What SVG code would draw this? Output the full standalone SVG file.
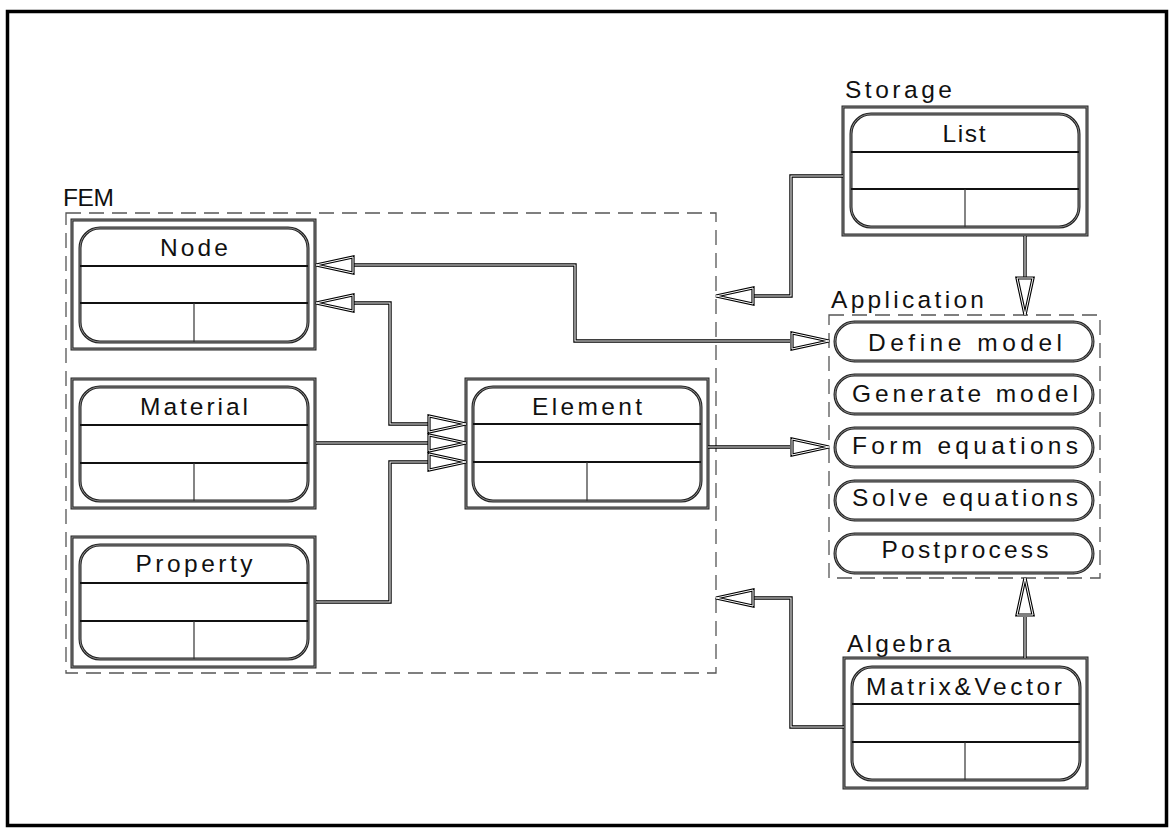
<svg xmlns="http://www.w3.org/2000/svg" xmlns:xlink="http://www.w3.org/1999/xlink" width="1175" height="834" viewBox="0 0 1175 834">
<style>
text{font-family:"Liberation Sans",Arial,sans-serif;font-size:24.5px;fill:#111}
.t{text-anchor:middle}
.frame{fill:none;stroke:#000;stroke-width:3.5}
.bo{fill:none;stroke:#222;stroke-width:3}
.bi{fill:none;stroke:#8a8a8a;stroke-width:1}
.hl{stroke:#111;stroke-width:1.8}
.vd{stroke:#333;stroke-width:1.2}
.dash{fill:none;stroke:#555;stroke-width:1.3;stroke-dasharray:15 8}
.co{fill:none;stroke:#000;stroke-width:3.4}
.ci{fill:none;stroke:#fff;stroke-width:1.1}
.ao{fill:#fff;stroke:#000;stroke-width:3.2;stroke-linejoin:miter}
.ai{fill:none;stroke:#fff;stroke-width:1}
</style>
<defs>
<polygon id="ah" points="0,0 -37,-8 -37,8"/>
</defs>
<rect width="1175" height="834" fill="#fff"/>
<rect class="frame" x="7.5" y="11.5" width="1159" height="814"/>

<g id="FEM">
<rect class="dash" x="66" y="213" width="650" height="460"/>
<text x="63" y="206" textLength="51" lengthAdjust="spacing">FEM</text>
</g>

<g id="Node">
<rect class="bo" x="72" y="220" width="243" height="129"/><rect class="bi" x="72" y="220" width="243" height="129"/>
<rect class="bo" x="80" y="228" width="228" height="114" rx="20"/><rect class="bi" x="80" y="228" width="228" height="114" rx="20"/>
<line class="hl" x1="80" y1="266" x2="308" y2="266"/><line class="hl" x1="80" y1="303" x2="308" y2="303"/>
<line class="vd" x1="194" y1="303" x2="194" y2="342"/>
<text class="t" x="194" y="256" textLength="68" lengthAdjust="spacing">Node</text>
</g>

<g id="Material">
<rect class="bo" x="72" y="379" width="243" height="129"/><rect class="bi" x="72" y="379" width="243" height="129"/>
<rect class="bo" x="80" y="387" width="228" height="114" rx="20"/><rect class="bi" x="80" y="387" width="228" height="114" rx="20"/>
<line class="hl" x1="80" y1="425" x2="308" y2="425"/><line class="hl" x1="80" y1="463" x2="308" y2="463"/>
<line class="vd" x1="194" y1="463" x2="194" y2="501"/>
<text class="t" x="194" y="415" textLength="108" lengthAdjust="spacing">Material</text>
</g>

<g id="Property">
<rect class="bo" x="72" y="537" width="243" height="130"/><rect class="bi" x="72" y="537" width="243" height="130"/>
<rect class="bo" x="80" y="545" width="228" height="114" rx="20"/><rect class="bi" x="80" y="545" width="228" height="114" rx="20"/>
<line class="hl" x1="80" y1="583" x2="308" y2="583"/><line class="hl" x1="80" y1="621" x2="308" y2="621"/>
<line class="vd" x1="194" y1="621" x2="194" y2="659"/>
<text class="t" x="194" y="572" textLength="117" lengthAdjust="spacing">Property</text>
</g>

<g id="Element">
<rect class="bo" x="466" y="379" width="242" height="129"/><rect class="bi" x="466" y="379" width="242" height="129"/>
<rect class="bo" x="473" y="387" width="228" height="114" rx="20"/><rect class="bi" x="473" y="387" width="228" height="114" rx="20"/>
<line class="hl" x1="473" y1="424" x2="701" y2="424"/><line class="hl" x1="473" y1="462" x2="701" y2="462"/>
<line class="vd" x1="587" y1="462" x2="587" y2="501"/>
<text class="t" x="587" y="415" textLength="110" lengthAdjust="spacing">Element</text>
</g>

<g id="Storage">
<text x="845" y="98" textLength="107" lengthAdjust="spacing">Storage</text>
<rect class="bo" x="843" y="107" width="244" height="128"/><rect class="bi" x="843" y="107" width="244" height="128"/>
<rect class="bo" x="851" y="114" width="228" height="113" rx="20"/><rect class="bi" x="851" y="114" width="228" height="113" rx="20"/>
<line class="hl" x1="851" y1="152" x2="1079" y2="152"/><line class="hl" x1="851" y1="189" x2="1079" y2="189"/>
<line class="vd" x1="965" y1="189" x2="965" y2="227"/>
<text class="t" x="964" y="142" textLength="43" lengthAdjust="spacing">List</text>
</g>

<g id="Application">
<rect class="dash" x="829" y="315" width="271" height="263"/>
<text x="831" y="308" textLength="153" lengthAdjust="spacing">Application</text>
<g id="DefineModel">
<rect class="bo" x="835" y="322" width="258" height="39" rx="19.5"/><rect class="bi" x="835" y="322" width="258" height="39" rx="19.5"/>
<text class="t" x="965" y="351" textLength="194" lengthAdjust="spacing">Define model</text>
</g>
<g id="GenerateModel">
<rect class="bo" x="835" y="375" width="258" height="39" rx="19.5"/><rect class="bi" x="835" y="375" width="258" height="39" rx="19.5"/>
<text class="t" x="965" y="402" textLength="226" lengthAdjust="spacing">Generate model</text>
</g>
<g id="FormEquations">
<rect class="bo" x="835" y="428" width="258" height="39" rx="19.5"/><rect class="bi" x="835" y="428" width="258" height="39" rx="19.5"/>
<text class="t" x="965" y="454" textLength="226" lengthAdjust="spacing">Form equations</text>
</g>
<g id="SolveEquations">
<rect class="bo" x="835" y="481" width="258" height="39" rx="19.5"/><rect class="bi" x="835" y="481" width="258" height="39" rx="19.5"/>
<text class="t" x="965" y="506" textLength="226" lengthAdjust="spacing">Solve equations</text>
</g>
<g id="Postprocess">
<rect class="bo" x="835" y="534" width="258" height="39" rx="19.5"/><rect class="bi" x="835" y="534" width="258" height="39" rx="19.5"/>
<text class="t" x="965" y="558" textLength="167" lengthAdjust="spacing">Postprocess</text>
</g>
</g>

<g id="Algebra">
<text x="847" y="652" textLength="104" lengthAdjust="spacing">Algebra</text>
<rect class="bo" x="844" y="658" width="243" height="130"/><rect class="bi" x="844" y="658" width="243" height="130"/>
<rect class="bo" x="852" y="667" width="228" height="113" rx="20"/><rect class="bi" x="852" y="667" width="228" height="113" rx="20"/>
<line class="hl" x1="852" y1="704" x2="1080" y2="704"/><line class="hl" x1="852" y1="742" x2="1080" y2="742"/>
<line class="vd" x1="965" y1="742" x2="965" y2="780"/>
<text class="t" x="964" y="695" textLength="196" lengthAdjust="spacing">Matrix&amp;Vector</text>
</g>

<g id="connectors">
<path class="co" d="M353,265 H575 V341 H790"/><path class="ci" d="M353,265 H575 V341 H790"/>
<path class="co" d="M353,303 H390 V424 H429"/><path class="ci" d="M353,303 H390 V424 H429"/>
<path class="co" d="M316,443 H429"/><path class="ci" d="M316,443 H429"/>
<path class="co" d="M316,602 H390 V462 H429"/><path class="ci" d="M316,602 H390 V462 H429"/>
<path class="co" d="M708,447 H790"/><path class="ci" d="M708,447 H790"/>
<path class="co" d="M843,176 H791 V296 H753"/><path class="ci" d="M843,176 H791 V296 H753"/>
<path class="co" d="M1025,236 V277"/><path class="ci" d="M1025,236 V277"/>
<path class="co" d="M844,727 H791 V598 H753"/><path class="ci" d="M844,727 H791 V598 H753"/>
<path class="co" d="M1025,658 V617"/><path class="ci" d="M1025,658 V617"/>

<use xlink:href="#ah" class="ao" transform="translate(316,265) rotate(180)"/><use xlink:href="#ah" class="ai" transform="translate(316,265) rotate(180)"/>
<use xlink:href="#ah" class="ao" transform="translate(829,341)"/><use xlink:href="#ah" class="ai" transform="translate(829,341)"/>
<use xlink:href="#ah" class="ao" transform="translate(316,303) rotate(180)"/><use xlink:href="#ah" class="ai" transform="translate(316,303) rotate(180)"/>
<use xlink:href="#ah" class="ao" transform="translate(466,424)"/><use xlink:href="#ah" class="ai" transform="translate(466,424)"/>
<use xlink:href="#ah" class="ao" transform="translate(466,443)"/><use xlink:href="#ah" class="ai" transform="translate(466,443)"/>
<use xlink:href="#ah" class="ao" transform="translate(466,462)"/><use xlink:href="#ah" class="ai" transform="translate(466,462)"/>
<use xlink:href="#ah" class="ao" transform="translate(829,447)"/><use xlink:href="#ah" class="ai" transform="translate(829,447)"/>
<use xlink:href="#ah" class="ao" transform="translate(716,296) rotate(180)"/><use xlink:href="#ah" class="ai" transform="translate(716,296) rotate(180)"/>
<use xlink:href="#ah" class="ao" transform="translate(1025,315) rotate(90)"/><use xlink:href="#ah" class="ai" transform="translate(1025,315) rotate(90)"/>
<use xlink:href="#ah" class="ao" transform="translate(716,598) rotate(180)"/><use xlink:href="#ah" class="ai" transform="translate(716,598) rotate(180)"/>
<use xlink:href="#ah" class="ao" transform="translate(1025,578) rotate(-90)"/><use xlink:href="#ah" class="ai" transform="translate(1025,578) rotate(-90)"/>
</g>
</svg>
